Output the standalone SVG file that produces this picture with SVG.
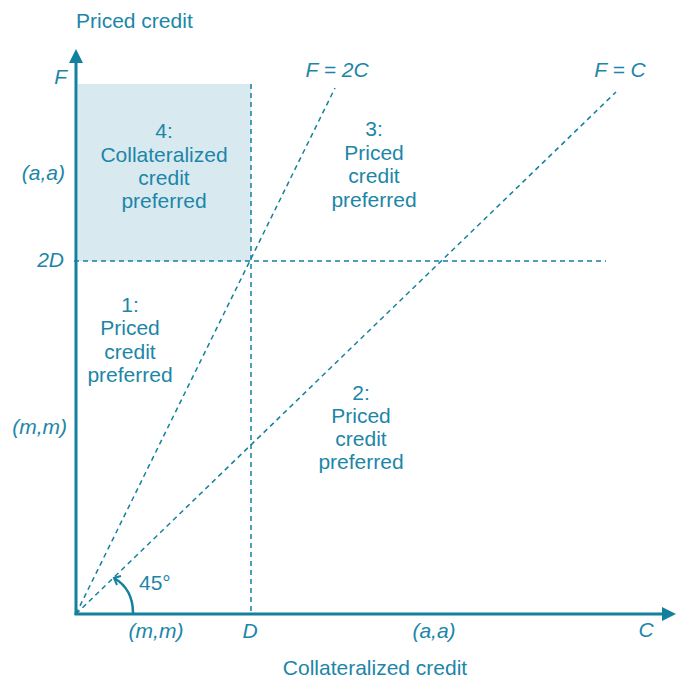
<svg xmlns="http://www.w3.org/2000/svg" width="678" height="679" viewBox="0 0 678 679">
<style>
.t{font-family:"Liberation Sans",Arial,sans-serif;font-size:21px;fill:#1c86a8}
.c{text-anchor:middle}
.i{font-style:italic}
.r{text-anchor:end}
.ax{stroke:#13809f;stroke-width:3;fill:none}
.d{stroke:#13809f;stroke-width:1.5;fill:none;stroke-dasharray:5 4}
</style>
<defs>
<marker id="ah" markerWidth="10" markerHeight="10" refX="10" refY="5" orient="auto" markerUnits="userSpaceOnUse" viewBox="0 0 10 10">
<path d="M0,0 L10,5 L0,10 Z" fill="#13809f"/>
</marker>
</defs>
<g id="region4">
<rect x="78" y="84" width="173" height="177" fill="#d8eaf0"/>
<text class="t c" x="164" y="138">4:</text>
<text class="t c" x="164" y="162">Collateralized</text>
<text class="t c" x="164" y="185">credit</text>
<text class="t c" x="164" y="208">preferred</text>
</g>
<g id="connectors">
<line class="d" x1="251" y1="84" x2="251" y2="614"/>
<line class="d" x1="74" y1="261" x2="606" y2="261"/>
<line class="d" x1="76" y1="614" x2="335" y2="88"/>
<line class="d" x1="76" y1="614" x2="616" y2="92"/>
<line class="ax" x1="76" y1="615" x2="76" y2="62"/>
<path d="M69,63 L76,49 L83,63 Z" fill="#13809f"/>
<line class="ax" x1="74.5" y1="614" x2="663" y2="614"/>
<path d="M662,607 L676,614 L662,621 Z" fill="#13809f"/>
<path d="M133,613 C133,597 126,585 114,578" stroke="#13809f" stroke-width="2.5" fill="none"/>
<path d="M121,576 L114,578 L117,585" stroke="#13809f" stroke-width="2" fill="none"/>
</g>
<g id="region3">
<text class="t c" x="374" y="136">3:</text>
<text class="t c" x="374" y="160">Priced</text>
<text class="t c" x="374" y="183">credit</text>
<text class="t c" x="374" y="207">preferred</text>
</g>
<g id="region1">
<text class="t c" x="130" y="312">1:</text>
<text class="t c" x="130" y="335">Priced</text>
<text class="t c" x="130" y="359">credit</text>
<text class="t c" x="130" y="382">preferred</text>
</g>
<g id="region2">
<text class="t c" x="361" y="400">2:</text>
<text class="t c" x="361" y="423">Priced</text>
<text class="t c" x="361" y="446">credit</text>
<text class="t c" x="361" y="469">preferred</text>
</g>
<g id="labels">
<text class="t" x="76" y="28">Priced credit</text>
<text class="t c" x="375" y="675">Collateralized credit</text>
<text class="t i r" x="67" y="84">F</text>
<text class="t i r" x="65" y="180">(a,a)</text>
<text class="t i r" x="64" y="267">2<tspan>D</tspan></text>
<text class="t i r" x="67" y="434">(m,m)</text>
<text class="t i c" x="156" y="638">(m,m)</text>
<text class="t i c" x="250" y="638">D</text>
<text class="t i c" x="434" y="638">(a,a)</text>
<text class="t i c" x="646" y="637">C</text>
<text class="t i c" x="337" y="77">F = 2C</text>
<text class="t i c" x="620" y="77">F = C</text>
<text class="t" x="139" y="590">45°</text>
</g>
</svg>
